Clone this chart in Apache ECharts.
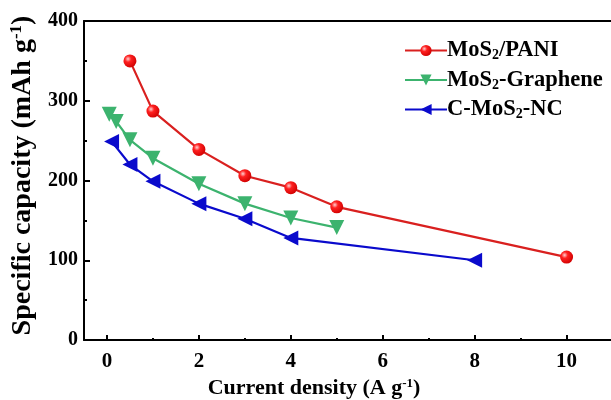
<!DOCTYPE html>
<html>
<head>
<meta charset="utf-8">
<script src="https://cdn.jsdelivr.net/npm/echarts@6/dist/echarts.min.js"></script>
<style>
  html, body { margin: 0; padding: 0; background: #fff; }
  #chart { width: 611px; height: 400px; }
</style>
</head>
<body>
<div id="chart"></div>
<script>
// Rate capability: specific capacity versus current density
const seriesNames = ['MoS2/PANI', 'MoS2-Graphene', 'C-MoS2-NC'];
const pani = [[0.5, 350], [1, 287], [2, 239], [3, 206], [4, 191], [5, 167], [10, 104]];
const graphene = [[0.05, 283], [0.2, 274], [0.5, 251], [1, 228], [2, 196], [3, 171], [4, 153], [5, 141]];
const cmos = [[0.1, 249], [0.5, 220], [1, 199], [2, 171], [3, 152], [4, 128], [8, 100]];
const xTicks = [0, 2, 4, 6, 8, 10];
const xMinorTicks = [1, 3, 5, 7, 9, 11];
const yTicks = [0, 100, 200, 300, 400];

const serif = '"Liberation Serif", "Times New Roman", serif';
const X_MIN = -0.5, X_MAX = 11.25;

const legendRich = {
  n: { fontFamily: serif, fontWeight: 'bold', fontSize: 22.5, color: '#000' },
  s: { fontFamily: serif, fontWeight: 'bold', fontSize: 14, color: '#000', padding: [10, 0, 0, 0] }
};
function legendLabel(name) {
  return name.split('2').map(p => p ? '{n|' + p + '}' : '').join('{s|2}');
}
function titleRich(size) {
  return {
    a: { fontFamily: serif, fontWeight: 'bold', fontSize: size, color: '#000' },
    b: { fontFamily: serif, fontWeight: 'bold', fontSize: Math.round(size * 0.6), color: '#000', padding: [0, 0, Math.round(size * 0.45), 0] }
  };
}

const chart = echarts.init(document.getElementById('chart'));
chart.setOption({
  animation: false,
  grid: {
    left: 84, top: 21, width: 540, height: 319,
    outerBoundsMode: 'none'
  },
  legend: {
    orient: 'vertical',
    left: 399, top: 34,
    itemWidth: 42, itemHeight: 14, itemGap: 6,
    data: seriesNames,
    formatter: legendLabel,
    textStyle: { rich: legendRich, padding: [0, 0, 0, -5] }
  },
  xAxis: [
    {
      type: 'value', min: X_MIN, max: X_MAX,
      axisLine: { onZero: false, lineStyle: { color: '#000', width: 2 } },
      axisTick: {
        inside: true, length: 5, lineStyle: { color: '#000', width: 2 },
        customValues: xTicks
      },
      axisLabel: {
        customValues: xTicks,
        color: '#000', fontFamily: serif, fontWeight: 'bold', fontSize: 21, margin: 11
      },
      splitLine: { show: false },
      name: '{a|Current density (A g}{b|-1}{a|)}',
      nameLocation: 'middle', nameGap: 34,
      nameTextStyle: { rich: titleRich(22), padding: [0, 80, 0, 0] }
    },
    {
      // short intermediate ticks at odd values
      type: 'value', min: X_MIN, max: X_MAX, position: 'bottom',
      axisLine: { show: false, onZero: false },
      axisTick: {
        inside: true, length: 2, lineStyle: { color: '#000', width: 2 },
        customValues: xMinorTicks
      },
      axisLabel: { show: false },
      splitLine: { show: false }
    },
    {
      // top frame line
      type: 'value', min: X_MIN, max: X_MAX, position: 'top',
      axisLine: { show: true, onZero: false, lineStyle: { color: '#000', width: 2 } },
      axisTick: { show: false },
      axisLabel: { show: false },
      splitLine: { show: false }
    }
  ],
  yAxis: {
    type: 'value', min: 0, max: 400, interval: 100,
    axisLine: { onZero: false, lineStyle: { color: '#000', width: 2 } },
    axisTick: { inside: true, length: 6, lineStyle: { color: '#000', width: 2 } },
    minorTick: { show: true, splitNumber: 2, length: 3, lineStyle: { color: '#000', width: 2 } },
    axisLabel: {
      customValues: yTicks,
      color: '#000', fontFamily: serif, fontWeight: 'bold', fontSize: 20, margin: 6
    },
    splitLine: { show: false },
    name: '{a|Specific capacity (mAh g}{b|-1}{a|)}',
    nameLocation: 'middle', nameGap: 44,
    nameTextStyle: { rich: titleRich(28), padding: [0, 0, 0, 10] }
  },
  series: [
    {
      name: seriesNames[0], type: 'line', data: pani,
      symbol: 'circle', symbolSize: 13,
      lineStyle: { color: '#d9201f', width: 2.2 },
      itemStyle: {
        color: {
          type: 'radial', x: 0.35, y: 0.35, r: 0.7,
          colorStops: [{ offset: 0, color: '#ffd0d0' }, { offset: 0.35, color: '#ff2020' }, { offset: 1, color: '#d00000' }]
        },
        borderWidth: 0
      }
    },
    {
      name: seriesNames[1], type: 'line', data: graphene,
      symbol: 'triangle', symbolRotate: 180, symbolSize: 15,
      lineStyle: { color: '#3cb36e', width: 2.2 },
      itemStyle: { color: '#3cb36e' }
    },
    {
      name: seriesNames[2], type: 'line', data: cmos,
      symbol: 'triangle', symbolRotate: 90, symbolSize: 15,
      lineStyle: { color: '#0a0acc', width: 2.2 },
      itemStyle: { color: '#0a0acc' }
    }
  ]
});
</script>
</body>
</html>
